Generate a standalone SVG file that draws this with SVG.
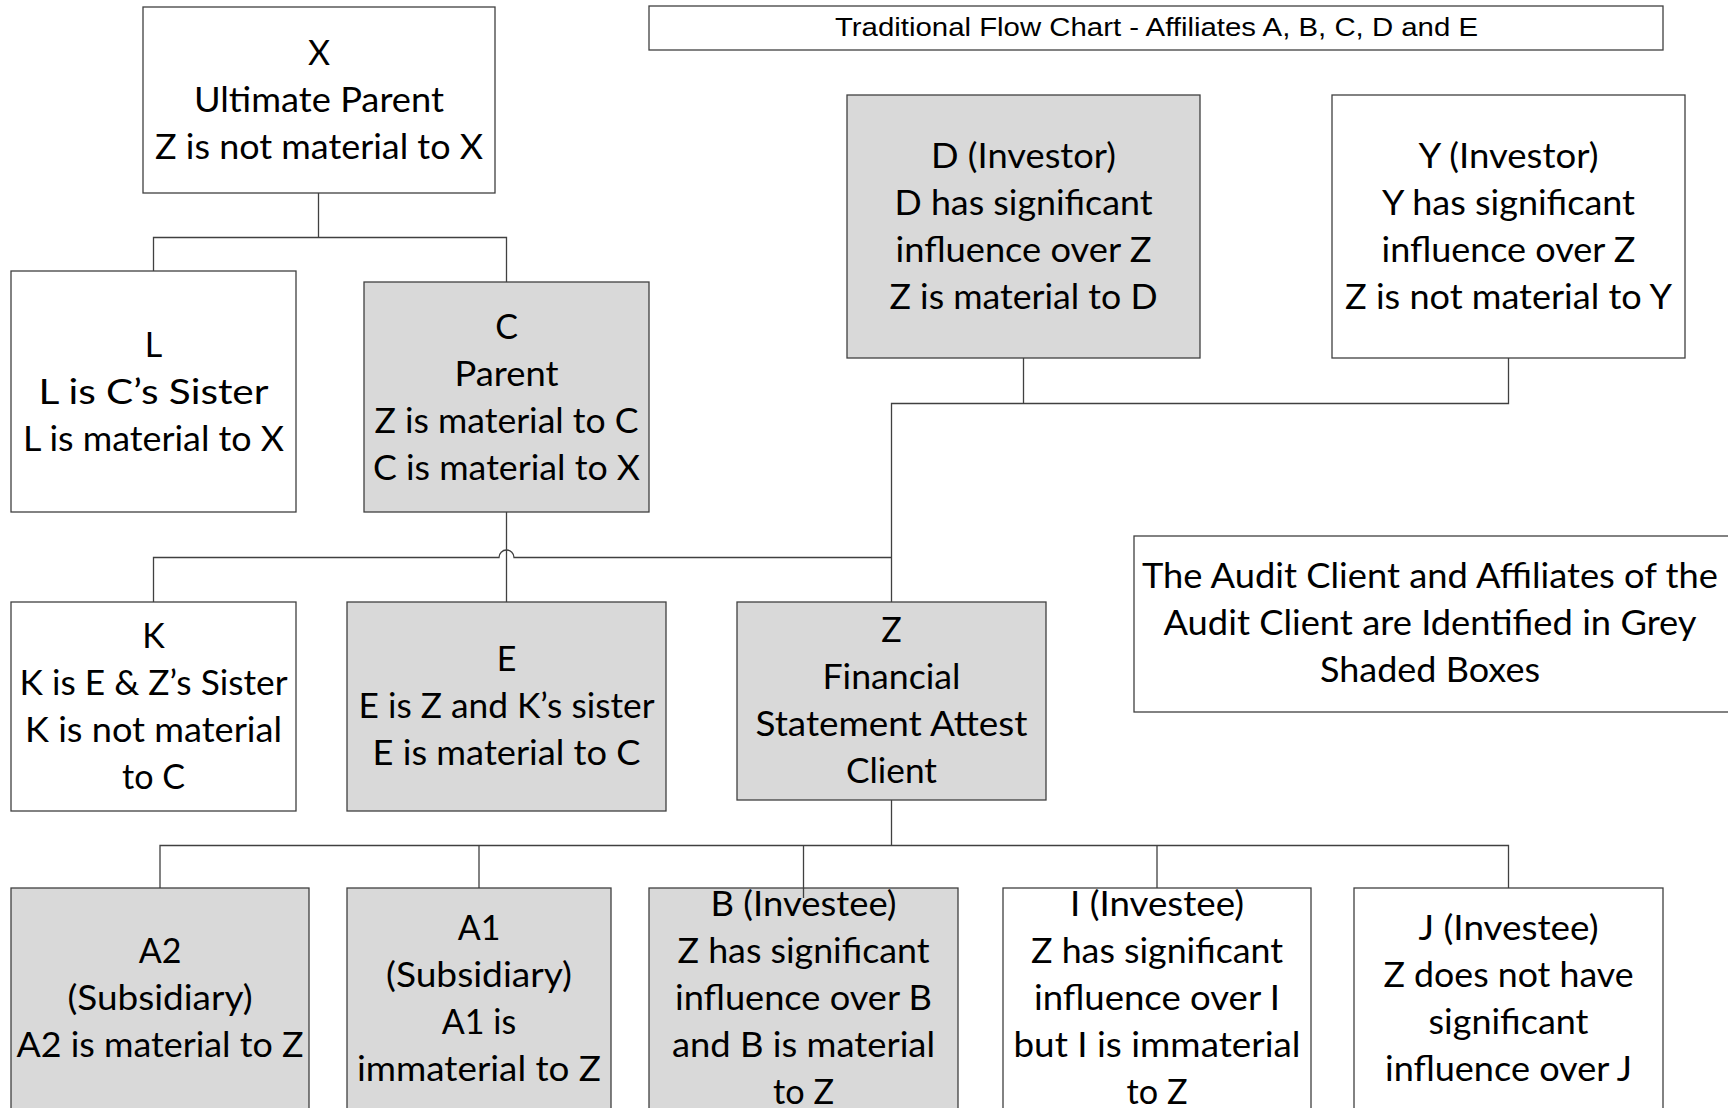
<svg xmlns="http://www.w3.org/2000/svg" width="1728" height="1108" viewBox="0 0 1728 1108">
  <style>
    .box{fill:#ffffff;stroke:#404040;stroke-width:1.3}
    .grey{fill:#d9d9d9}
    .t{font-family:Lato,"Open Sans","Liberation Sans",sans-serif;font-size:34px;fill:#000000;text-anchor:middle}
    .title{font-family:"Liberation Sans",Arial,sans-serif;font-size:25px;fill:#000000;text-anchor:middle}
    .conn{fill:none;stroke:#404040;stroke-width:1.3}
  </style>
  <rect width="1728" height="1108" fill="#ffffff"/>

  <g id="title">
    <rect class="box" x="649" y="6" width="1014" height="44"/>
    <text class="title" x="1156.5" y="36" textLength="643" lengthAdjust="spacingAndGlyphs">Traditional Flow Chart - Affiliates A, B, C, D and E</text>
  </g>

  <g id="node-x">
    <rect class="box" x="143" y="7" width="352" height="186"/>
    <text class="t" x="319" y="65">X</text>
    <text class="t" x="319" y="112" textLength="250" lengthAdjust="spacingAndGlyphs">Ultimate Parent</text>
    <text class="t" x="319" y="159" textLength="328" lengthAdjust="spacingAndGlyphs">Z is not material to X</text>
  </g>

  <g id="node-l">
    <rect class="box" x="11" y="271" width="285" height="241"/>
    <text class="t" x="153.5" y="357">L</text>
    <text class="t" x="153.5" y="404" textLength="230" lengthAdjust="spacingAndGlyphs">L is C’s Sister</text>
    <text class="t" x="153.5" y="451" textLength="261" lengthAdjust="spacingAndGlyphs">L is material to X</text>
  </g>

  <g id="node-c">
    <rect class="box grey" x="364" y="282" width="285" height="230"/>
    <text class="t" x="506.5" y="339">C</text>
    <text class="t" x="506.5" y="386" textLength="104" lengthAdjust="spacingAndGlyphs">Parent</text>
    <text class="t" x="506.5" y="433" textLength="264" lengthAdjust="spacingAndGlyphs">Z is material to C</text>
    <text class="t" x="506.5" y="480" textLength="267" lengthAdjust="spacingAndGlyphs">C is material to X</text>
  </g>

  <g id="node-d">
    <rect class="box grey" x="847" y="95" width="353" height="263"/>
    <text class="t" x="1023.5" y="168" textLength="185" lengthAdjust="spacingAndGlyphs">D (Investor)</text>
    <text class="t" x="1023.5" y="215" textLength="258" lengthAdjust="spacingAndGlyphs">D has significant</text>
    <text class="t" x="1023.5" y="262" textLength="256" lengthAdjust="spacingAndGlyphs">influence over Z</text>
    <text class="t" x="1023.5" y="309" textLength="268" lengthAdjust="spacingAndGlyphs">Z is material to D</text>
  </g>

  <g id="node-y">
    <rect class="box" x="1332" y="95" width="353" height="263"/>
    <text class="t" x="1508.5" y="168" textLength="180" lengthAdjust="spacingAndGlyphs">Y (Investor)</text>
    <text class="t" x="1508.5" y="215" textLength="253" lengthAdjust="spacingAndGlyphs">Y has significant</text>
    <text class="t" x="1508.5" y="262" textLength="254" lengthAdjust="spacingAndGlyphs">influence over Z</text>
    <text class="t" x="1508.5" y="309" textLength="327" lengthAdjust="spacingAndGlyphs">Z is not material to Y</text>
  </g>

  <g id="node-k">
    <rect class="box" x="11" y="602" width="285" height="209"/>
    <text class="t" x="153.5" y="648">K</text>
    <text class="t" x="153.5" y="695" textLength="268" lengthAdjust="spacingAndGlyphs">K is E &amp; Z’s Sister</text>
    <text class="t" x="153.5" y="742" textLength="257" lengthAdjust="spacingAndGlyphs">K is not material</text>
    <text class="t" x="153.5" y="789" textLength="63" lengthAdjust="spacingAndGlyphs">to C</text>
  </g>

  <g id="node-e">
    <rect class="box grey" x="347" y="602" width="319" height="209"/>
    <text class="t" x="506.5" y="671">E</text>
    <text class="t" x="506.5" y="718" textLength="296" lengthAdjust="spacingAndGlyphs">E is Z and K’s sister</text>
    <text class="t" x="506.5" y="765" textLength="268" lengthAdjust="spacingAndGlyphs">E is material to C</text>
  </g>

  <g id="node-z">
    <rect class="box grey" x="737" y="602" width="309" height="198"/>
    <text class="t" x="891.5" y="642">Z</text>
    <text class="t" x="891.5" y="689" textLength="138" lengthAdjust="spacingAndGlyphs">Financial</text>
    <text class="t" x="891.5" y="736" textLength="272" lengthAdjust="spacingAndGlyphs">Statement Attest</text>
    <text class="t" x="891.5" y="783" textLength="91" lengthAdjust="spacingAndGlyphs">Client</text>
  </g>

  <g id="legend">
    <!-- runs past the right edge of the page -->
    <rect class="box" x="1134" y="536" width="606" height="176"/>
    <text class="t" x="1430" y="588" textLength="576" lengthAdjust="spacingAndGlyphs">The Audit Client and Affiliates of the</text>
    <text class="t" x="1430" y="635" textLength="533" lengthAdjust="spacingAndGlyphs">Audit Client are Identified in Grey</text>
    <text class="t" x="1430" y="682" textLength="220" lengthAdjust="spacingAndGlyphs">Shaded Boxes</text>
  </g>

  <g id="node-a2">
    <rect class="box grey" x="11" y="888" width="298" height="222"/>
    <text class="t" x="160" y="963">A2</text>
    <text class="t" x="160" y="1010" textLength="185" lengthAdjust="spacingAndGlyphs">(Subsidiary)</text>
    <text class="t" x="160" y="1057" textLength="287" lengthAdjust="spacingAndGlyphs">A2 is material to Z</text>
  </g>

  <g id="node-a1">
    <rect class="box grey" x="347" y="888" width="264" height="222"/>
    <text class="t" x="479" y="940">A1</text>
    <text class="t" x="479" y="987" textLength="186" lengthAdjust="spacingAndGlyphs">(Subsidiary)</text>
    <text class="t" x="479" y="1034">A1 is</text>
    <text class="t" x="479" y="1081" textLength="244" lengthAdjust="spacingAndGlyphs">immaterial to Z</text>
  </g>

  <g id="node-b">
    <rect class="box grey" x="649" y="888" width="309" height="222"/>
    <text class="t" x="803.5" y="916" textLength="186" lengthAdjust="spacingAndGlyphs">B (Investee)</text>
    <text class="t" x="803.5" y="963" textLength="252" lengthAdjust="spacingAndGlyphs">Z has significant</text>
    <text class="t" x="803.5" y="1010" textLength="257" lengthAdjust="spacingAndGlyphs">influence over B</text>
    <text class="t" x="803.5" y="1057" textLength="263" lengthAdjust="spacingAndGlyphs">and B is material</text>
    <text class="t" x="803.5" y="1104" textLength="61" lengthAdjust="spacingAndGlyphs">to Z</text>
  </g>

  <g id="node-i">
    <rect class="box" x="1003" y="888" width="308" height="222"/>
    <text class="t" x="1157" y="916" textLength="174" lengthAdjust="spacingAndGlyphs">I (Investee)</text>
    <text class="t" x="1157" y="963" textLength="252" lengthAdjust="spacingAndGlyphs">Z has significant</text>
    <text class="t" x="1157" y="1010" textLength="246" lengthAdjust="spacingAndGlyphs">influence over I</text>
    <text class="t" x="1157" y="1057" textLength="287" lengthAdjust="spacingAndGlyphs">but I is immaterial</text>
    <text class="t" x="1157" y="1104" textLength="61" lengthAdjust="spacingAndGlyphs">to Z</text>
  </g>

  <g id="node-j">
    <rect class="box" x="1354" y="888" width="309" height="222"/>
    <text class="t" x="1508.5" y="940" textLength="180" lengthAdjust="spacingAndGlyphs">J (Investee)</text>
    <text class="t" x="1508.5" y="987" textLength="250" lengthAdjust="spacingAndGlyphs">Z does not have</text>
    <text class="t" x="1508.5" y="1034" textLength="160" lengthAdjust="spacingAndGlyphs">significant</text>
    <text class="t" x="1508.5" y="1081" textLength="247" lengthAdjust="spacingAndGlyphs">influence over J</text>
  </g>

  <g id="connectors">
    <!-- X to L and C -->
    <path class="conn" d="M318.5 193 V237.5 M153.5 271 V237.5 H506.5 V282"/>
    <!-- D and Y down to Z -->
    <path class="conn" d="M1023.5 358 V403.5 M1508.5 358 V403.5 H891.5 V602"/>
    <!-- C down to E -->
    <path class="conn" d="M506.5 512 V602"/>
    <!-- K line, hopping over the C line -->
    <path class="conn" d="M153.5 602 V557.5 H499 A7.5 7.5 0 0 1 514 557.5 H891.5"/>
    <!-- Z to its investees and subsidiaries -->
    <path class="conn" d="M891.5 800 V845.5 M160 888 V845.5 H1508.5 V888 M479 845.5 V888 M803.5 845.5 V898 M1157 845.5 V888"/>
  </g>
</svg>
